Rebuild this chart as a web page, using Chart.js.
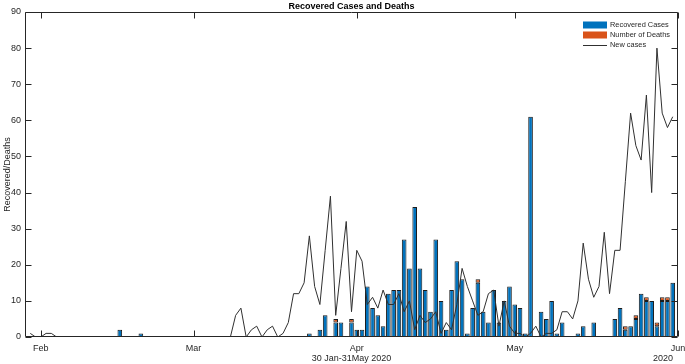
<!DOCTYPE html>
<html>
<head>
<meta charset="utf-8">
<title>Recovered Cases and Deaths</title>
<script src="https://cdn.jsdelivr.net/npm/chart.js@4.4.1/dist/chart.umd.min.js"></script>
<style>
  html, body { margin: 0; padding: 0; background: #fff; }
  #chart { display: block; }
</style>
</head>
<body>
<canvas id="chart" width="685" height="364"></canvas>
<script>
// Daily values, 30 Jan 2020 (day 0) to 31 May 2020 (day 122)
const recovered = [
  0, 0, 0, 0, 0, 0, 0, 0, 0, 0,
  0, 0, 0, 0, 0, 0, 0, 2, 0, 0,
  0, 1, 0, 0, 0, 0, 0, 0, 0, 0,
  0, 0, 0, 0, 0, 0, 0, 0, 0, 0,
  0, 0, 0, 0, 0, 0, 0, 0, 0, 0,
  0, 0, 0, 1, 0, 2, 6, 0, 4, 4,
  0, 4, 2, 2, 14, 8, 6, 3, 12, 13,
  13, 27, 19, 36, 19, 13, 7, 27, 10, 2,
  13, 21, 16, 1, 8, 15, 7, 4, 13, 4,
  10, 14, 9, 8, 1, 61, 0, 7, 5, 10,
  1, 4, 0, 0, 1, 3, 0, 4, 0, 0,
  0, 5, 8, 2, 3, 5, 12, 10, 10, 3,
  10, 10, 15
];

const deaths = [
  0, 0, 0, 0, 0, 0, 0, 0, 0, 0,
  0, 0, 0, 0, 0, 0, 0, 0, 0, 0,
  0, 0, 0, 0, 0, 0, 0, 0, 0, 0,
  0, 0, 0, 0, 0, 0, 0, 0, 0, 0,
  0, 0, 0, 0, 0, 0, 0, 0, 0, 0,
  0, 0, 0, 0, 0, 0, 0, 0, 1, 0,
  0, 1, 0, 0, 0, 0, 0, 0, 0, 0,
  0, 0, 0, 0, 0, 0, 0, 0, 0, 0,
  0, 0, 0, 0, 0, 1, 0, 0, 0, 0,
  0, 0, 0, 0, 0, 0, 0, 0, 0, 0,
  0, 0, 0, 0, 0, 0, 0, 0, 0, 0,
  0, 0, 0, 1, 0, 1, 0, 1, 0, 1,
  1, 1, 0
];

const newCases = [
  1, 0, 0, 1, 1, 0, 0, 0, 0, 0,
  0, 0, 0, 0, 0, 0, 0, 0, 0, 0,
  0, 0, 0, 0, 0, 0, 0, 0, 0, 0,
  0, 0, 0, 0, 0, 0, 0, 0, 0, 6,
  8, 0, 2, 3, 0, 2, 3, 0, 1, 4,
  12, 12, 15, 28, 14, 9, 24, 39, 6, 19,
  32, 7, 24, 21, 9, 11, 8, 13, 9, 9,
  12, 7, 10, 2, 6, 4, 5, 7, 1, 4,
  2, 9, 19, 14, 10, 6, 7, 12, 13, 3,
  10, 3, 1, 1, 0, 1, 3, 0, 1, 1,
  2, 7, 7, 5, 10, 26, 16, 11, 14, 29,
  12, 24, 24, 43, 62, 53, 49, 67, 40, 80,
  62, 58, 61
];

// day index of each month start, and axis labels
const monthTicks = [2, 31, 62, 92, 123];
const monthLabels = ['Feb', 'Mar', 'Apr', 'May', 'Jun'];
const yTicks = [0, 10, 20, 30, 40, 50, 60, 70, 80, 90];

const days = recovered.map((v, i) => i);

const textColor = '#262626';
const fontFamily = '"Liberation Sans", Arial, Helvetica, sans-serif';
Chart.defaults.font.family = fontFamily;
Chart.defaults.color = textColor;

// MATLAB-like box, inward ticks, legend and the year under the axis
const axesBox = {
  id: 'axesBox',
  afterDatasetsDraw(chart) {
    const { ctx, chartArea, scales } = chart;
    const left = Math.round(chartArea.left) + 0.5;
    const right = Math.round(chartArea.right) - 0.5;
    const top = Math.round(chartArea.top) + 0.5;
    const bottom = Math.round(chartArea.bottom) - 0.5;
    const len = 6;

    ctx.save();
    ctx.strokeStyle = textColor;
    ctx.lineWidth = 1;
    ctx.beginPath();
    ctx.rect(left, top, right - left, bottom - top);
    monthTicks.forEach(v => {
      const px = Math.round(scales.x.getPixelForValue(v)) + 0.5;
      ctx.moveTo(px, bottom); ctx.lineTo(px, bottom - len);
      ctx.moveTo(px, top); ctx.lineTo(px, top + len);
    });
    yTicks.forEach(v => {
      const py = Math.round(scales.y.getPixelForValue(v)) + 0.5;
      ctx.moveTo(left, py); ctx.lineTo(left + len, py);
      ctx.moveTo(right, py); ctx.lineTo(right - len, py);
    });
    ctx.stroke();

    // legend
    const lx = 583, lw = 24;
    const rows = [25, 35, 45];
    ctx.font = '7.4px ' + fontFamily;
    ctx.textBaseline = 'middle';
    ctx.textAlign = 'left';
    chart.data.datasets.forEach((ds, i) => {
      const cy = rows[i];
      if (ds.type === 'line') {
        ctx.strokeStyle = ds.borderColor;
        ctx.lineWidth = 1;
        ctx.beginPath();
        ctx.moveTo(lx, cy + 0.5); ctx.lineTo(lx + lw, cy + 0.5);
        ctx.stroke();
      } else {
        ctx.fillStyle = ds.backgroundColor;
        ctx.fillRect(lx, cy - 3.5, lw, 7);
      }
      ctx.fillStyle = textColor;
      ctx.fillText(ds.label, lx + lw + 3, cy);
    });

    // year under the last month tick
    ctx.font = '9px ' + fontFamily;
    ctx.textAlign = 'center';
    ctx.fillText('2020', 663, 359);
    ctx.restore();
  }
};

const ctx = document.getElementById('chart').getContext('2d');

const casesChart = new Chart(ctx, {
  type: 'bar',
  data: {
    labels: days,
    datasets: [
      {
        label: 'Recovered Cases',
        data: recovered,
        backgroundColor: '#0072BD',
        borderColor: '#1c1c1c',
        borderWidth: 1,
        borderSkipped: false,
        stack: 'bars',
        order: 2
      },
      {
        label: 'Number of Deaths',
        data: deaths,
        backgroundColor: '#D95319',
        borderColor: '#1c1c1c',
        borderWidth: 1,
        borderSkipped: false,
        stack: 'bars',
        order: 2
      },
      {
        type: 'line',
        label: 'New cases',
        data: newCases,
        borderColor: '#303030',
        borderWidth: 1,
        pointRadius: 0,
        tension: 0,
        fill: false,
        stack: 'line',
        order: 1
      }
    ]
  },
  options: {
    responsive: false,
    animation: false,
    devicePixelRatio: 1,
    layout: { padding: { top: 0, right: 7, bottom: 0, left: 0 } },
    datasets: {
      bar: { categoryPercentage: 1, barPercentage: 0.88 }
    },
    plugins: {
      legend: { display: false },
      tooltip: { enabled: false },
      title: {
        display: true,
        text: 'Recovered Cases and Deaths',
        color: '#000',
        fullSize: false,
        font: { size: 9, weight: 'bold' },
        padding: { top: 1.2, bottom: 0 }
      }
    },
    scales: {
      x: {
        type: 'linear',
        min: -1,
        max: 123,
        offset: false,
        stacked: true,
        grid: { display: false, drawTicks: false },
        border: { display: false },
        ticks: {
          autoSkip: false,
          maxRotation: 0,
          padding: 6.5,
          font: { size: 9 },
          callback: (v) => monthLabels[monthTicks.indexOf(v)]
        },
        afterBuildTicks: (axis) => { axis.ticks = monthTicks.map(v => ({ value: v })); },
        afterFit: (axis) => { axis.height = 27; axis.paddingLeft = 0; axis.paddingRight = 0; },
        title: {
          display: true,
          text: '30 Jan-31May 2020',
          font: { size: 9 },
          padding: { top: 0, bottom: 0 }
        }
      },
      y: {
        min: 0,
        max: 90,
        stacked: true,
        grid: { display: false, drawTicks: false },
        border: { display: false },
        ticks: { padding: 4, font: { size: 9 } },
        afterBuildTicks: (axis) => { axis.ticks = yTicks.map(v => ({ value: v })); },
        afterFit: (axis) => { axis.width = 25; },
        title: {
          display: true,
          text: 'Recovered/Deaths',
          font: { size: 9 },
          padding: { top: 2, bottom: 0 }
        }
      }
    }
  },
  plugins: [axesBox]
});
</script>
</body>
</html>
